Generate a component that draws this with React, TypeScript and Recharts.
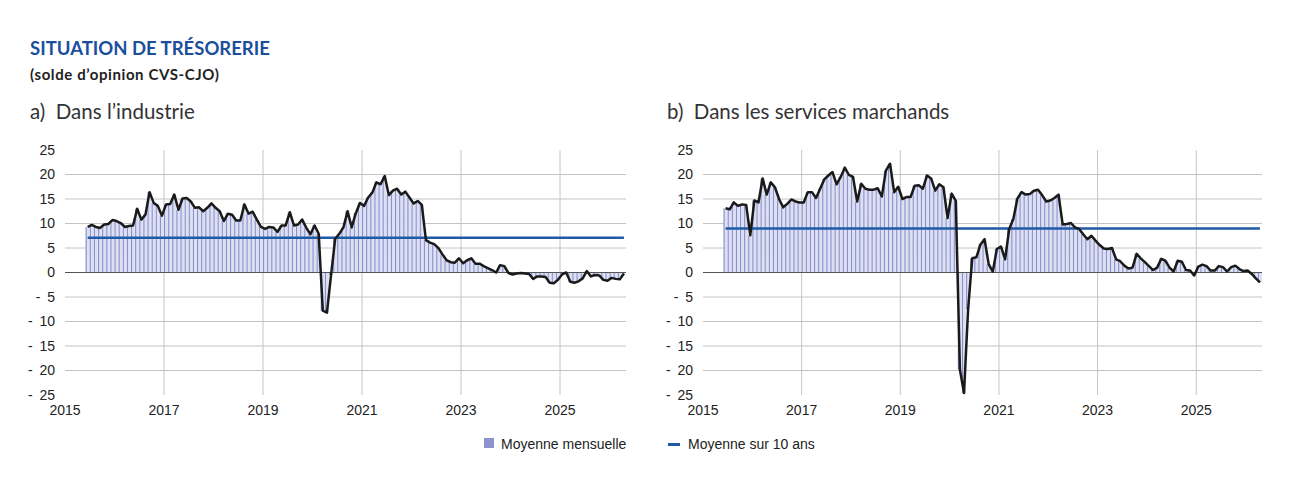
import React from "react";
import {
  ComposedChart,
  Bar,
  Line,
  XAxis,
  YAxis,
  CartesianGrid,
  ReferenceLine
} from "recharts";

// série mensuelle, de juin 2015 à avril 2026
const START_YEAR = 2015;
const START_MONTH = 6;

const industrie = [
  9.3, 9.7, 9.3, 9.1, 9.8, 9.9, 10.7, 10.5, 10.1, 9.3, 9.5, 9.6,
  13.0, 10.8, 11.8, 16.4, 14.2, 13.6, 11.6, 13.9, 14.0, 15.9, 12.8, 15.1,
  15.2, 14.5, 13.2, 13.3, 12.5, 13.2, 14.1, 13.2, 12.5, 10.5, 12.0, 11.8,
  10.6, 10.6, 13.9, 12.0, 12.4, 10.8, 9.3, 8.9, 9.3, 9.2, 8.3, 9.6,
  9.6, 12.3, 9.6, 9.8, 10.8, 9.1, 7.8, 9.6, 7.9, -7.8, -8.2, -0.5,
  6.9, 7.9, 9.2, 12.5, 9.2, 12.1, 14.2, 13.6, 15.3, 16.3, 18.4, 18.0,
  19.7, 15.8, 16.7, 17.1, 15.9, 16.5, 15.3, 14.1, 14.6, 13.8, 6.6, 6.1,
  5.8, 5.0, 3.7, 2.5, 2.1, 2.0, 2.9, 1.9, 2.5, 2.9, 1.8, 1.8,
  1.3, 0.9, 0.5, 0.0, 1.5, 1.3, -0.1, -0.4, -0.2, -0.1, -0.2, -0.3,
  -1.3, -0.8, -0.8, -0.9, -2.1, -2.2, -1.5, -0.4, 0.0, -1.9, -2.1, -1.8,
  -1.2, 0.3, -0.8, -0.5, -0.6, -1.5, -1.7, -1.1, -1.3, -1.4, -0.2
];

const services = [
  13.1, 12.9, 14.3, 13.6, 13.9, 13.8, 7.6, 14.7, 14.3, 19.2, 15.9, 18.4,
  17.4, 15.0, 13.3, 14.0, 14.9, 14.5, 14.3, 14.3, 16.4, 16.4, 15.2, 17.1,
  19.0, 19.8, 20.5, 18.0, 19.5, 21.4, 19.9, 19.5, 14.5, 18.1, 17.1, 16.9,
  16.9, 17.2, 15.5, 20.8, 22.2, 16.4, 17.5, 15.0, 15.4, 15.4, 17.7, 17.8,
  17.1, 19.8, 19.2, 16.7, 18.0, 17.4, 11.1, 16.1, 14.6, -19.8, -24.6, -7.5,
  2.9, 3.1, 5.7, 6.8, 1.7, 0.2, 4.8, 5.3, 2.7, 8.9, 10.9, 15.1,
  16.4, 15.9, 16.0, 16.7, 16.9, 15.8, 14.5, 14.7, 15.2, 15.9, 9.8, 9.9,
  10.1, 9.2, 8.9, 7.8, 6.8, 7.5, 6.5, 5.6, 4.9, 4.8, 5.0, 2.7,
  2.3, 1.4, 0.8, 1.0, 3.8, 2.9, 2.1, 1.3, 0.5, 1.0, 2.8, 2.4,
  1.0, 0.2, 2.4, 2.2, 0.5, 0.4, -0.6, 1.2, 1.6, 1.3, 0.4, 0.4,
  1.3, 1.1, 0.2, 1.1, 1.4, 0.7, 0.3, 0.4, -0.3, -1.2, -2.0
];

// moyennes sur 10 ans
const moyenneIndustrie = 7.1;
const moyenneServices = 9.0;

const yTicks = [-25, -20, -15, -10, -5, 0, 5, 10, 15, 20, 25];
const gridLevels = [-20, -15, -10, -5, 5, 10, 15, 20];
const xTicks = [2015, 2017, 2019, 2021, 2023, 2025];
const gridYears = [2017, 2019, 2021, 2023, 2025];
const X_DOMAIN: [number, number] = [2015, 2026 + 4 / 12];

const FONT = "'Liberation Sans', Arial, sans-serif";
const TITLE_FONT = "Lato, 'Open Sans', sans-serif";

function buildRows(values: number[], avg: number) {
  return values.map((v, i) => {
    const m = START_MONTH - 1 + i;
    return { t: START_YEAR + (m + 0.5) / 12, value: v, avg };
  });
}

const fmtY = (v: number) => (v < 0 ? `-\u00a0\u2009${Math.abs(v)}` : `${v}`);

// barre mensuelle : fond pâle + filet plus soutenu
const StripeBar = (props: any) => {
  const { x, y, width, height } = props;
  if (x == null || y == null) return null;
  const top = Math.min(y, y + height);
  const h = Math.abs(height);
  return (
    <g>
      <rect x={x} y={top} width={width} height={h} fill="#dde0f2" />
      <rect x={x} y={top} width={1.1} height={h} fill="#8a90cb" />
    </g>
  );
};

function Panel({ values, avg, yWidth, right }: { values: number[]; avg: number; yWidth: number; right: number }) {
  const rows = buildRows(values, avg);
  return (
    <ComposedChart
      width={640}
      height={300}
      data={rows}
      margin={{ top: 20, right, bottom: 5, left: 0 }}
      barCategoryGap="0%"
    >
      <CartesianGrid
        horizontalValues={gridLevels}
        verticalValues={gridYears}
        stroke="#c4c4c4"
        strokeWidth={1}
      />
      <XAxis
        dataKey="t"
        type="number"
        domain={X_DOMAIN}
        ticks={xTicks}
        allowDataOverflow
        axisLine={false}
        tickLine={false}
        tickMargin={4}
        tick={{ fill: "#222", fontSize: 14, fontFamily: FONT }}
        height={30}
      />
      <YAxis
        domain={[-25, 25]}
        ticks={yTicks}
        tickFormatter={fmtY}
        axisLine={false}
        tickLine={false}
        tickMargin={4}
        width={yWidth}
        interval={0}
        tick={{ fill: "#222", fontSize: 14, fontFamily: FONT }}
      />
      <ReferenceLine y={0} stroke="#555" strokeWidth={1} />
      <Bar dataKey="value" shape={StripeBar} isAnimationActive={false} />
      <Line
        dataKey="avg"
        type="linear"
        stroke="#1f5aa6"
        strokeWidth={2.5}
        dot={false}
        isAnimationActive={false}
      />
      <Line
        dataKey="value"
        type="linear"
        stroke="#1a1a1a"
        strokeWidth={2.5}
        dot={false}
        strokeLinejoin="round"
        isAnimationActive={false}
      />
    </ComposedChart>
  );
}

export default function App() {
  const abs = (left: number, top: number): React.CSSProperties => ({
    position: "absolute",
    left,
    top,
    whiteSpace: "pre",
    lineHeight: 1
  });

  return (
    <div style={{ position: "absolute", left: 0, top: 0, width: 1300, height: 483, background: "#fff" }}>
      <div style={{ ...abs(30, 39), fontFamily: TITLE_FONT, fontWeight: 700, fontSize: 18.5, color: "#1b4f9c" }}>
        SITUATION DE TRÉSORERIE
      </div>
      <div style={{ ...abs(30, 67), fontFamily: TITLE_FONT, fontWeight: 700, fontSize: 15, letterSpacing: 0.6, color: "#222" }}>
        (solde d’opinion CVS-CJO)
      </div>
      <div style={{ ...abs(30, 101), fontFamily: TITLE_FONT, fontSize: 20.5, color: "#333" }}>
        a)  Dans l’industrie
      </div>
      <div style={{ ...abs(667, 101), fontFamily: TITLE_FONT, fontSize: 20.5, color: "#333" }}>
        b)  Dans les services marchands
      </div>

      <div style={{ position: "absolute", left: 0, top: 130 }}>
        <Panel values={industrie} avg={moyenneIndustrie} yWidth={65} right={14} />
      </div>
      <div style={{ position: "absolute", left: 640, top: 130 }}>
        <Panel values={services} avg={moyenneServices} yWidth={63} right={18} />
      </div>

      <div style={{ position: "absolute", left: 484, top: 438, width: 10, height: 10, background: "#8d93cd" }} />
      <div style={{ ...abs(501, 437), fontFamily: FONT, fontSize: 14, color: "#222" }}>Moyenne mensuelle</div>
      <div style={{ position: "absolute", left: 668, top: 443, width: 12, height: 3, background: "#1f5aa6" }} />
      <div style={{ ...abs(688, 437), fontFamily: FONT, fontSize: 14, color: "#222" }}>Moyenne sur 10 ans</div>
    </div>
  );
}
